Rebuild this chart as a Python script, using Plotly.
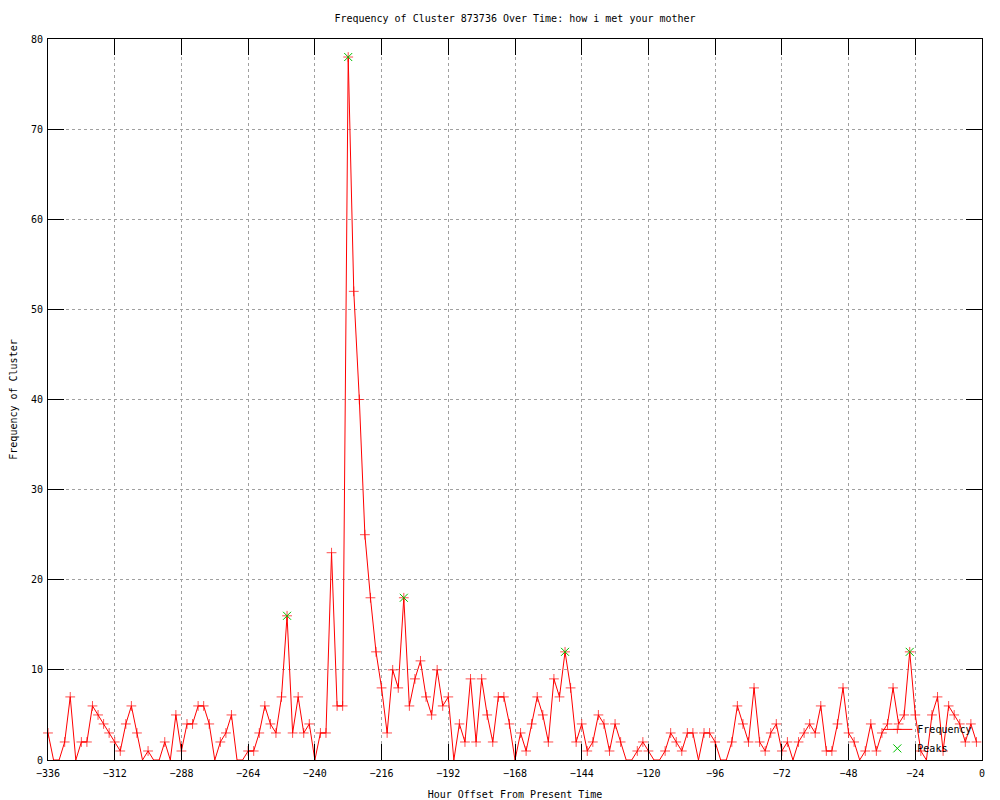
import plotly.graph_objects as go

# ---- data ----
hours = list(range(-336, 0, 2))
frequency = [
    3, 0, 0, 2, 7, 0, 2, 2, 6, 5, 4, 3, 2, 1, 4, 6, 3, 0, 1, 0,
    0, 2, 0, 5, 1, 4, 4, 6, 6, 4, 0, 2, 3, 5, 0, 0, 1, 1, 3, 6,
    4, 3, 7, 16, 3, 7, 3, 4, 0, 3, 3, 23, 6, 6, 78, 52, 40, 25, 18, 12,
    8, 3, 10, 8, 18, 6, 9, 11, 7, 5, 10, 6, 7, 0, 4, 2, 9, 2, 9, 5,
    2, 7, 7, 4, 0, 3, 1, 4, 7, 5, 2, 9, 7, 12, 8, 2, 4, 1, 2, 5,
    4, 1, 4, 2, 0, 0, 1, 2, 1, 0, 0, 1, 3, 2, 1, 3, 3, 0, 3, 3,
    2, 0, 0, 2, 6, 4, 2, 8, 2, 1, 3, 4, 1, 2, 0, 2, 3, 4, 3, 6,
    1, 1, 4, 8, 3, 2, 0, 1, 4, 1, 3, 4, 8, 4, 5, 12, 5, 1, 0, 5,
    7, 1, 6, 5, 4, 2, 4, 2,
]
peak_hours = [-250, -228, -208, -150, -26]
peak_values = [16, 78, 18, 12, 12]

x_ticks = list(range(-336, 1, 24))
y_ticks = list(range(0, 81, 10))

title = "Frequency of Cluster 873736 Over Time: how i met your mother"
x_title = "Hour Offset From Present Time"
y_title = "Frequency of Cluster"

FONT = "DejaVu Sans Mono"
RED = "#ff0000"
GREEN = "#00c000"

# points lying on the bottom border are not drawn by the original
marker_sizes = [0 if v == 0 else 7 for v in frequency]

fig = go.Figure()
fig.add_trace(go.Scatter(
    x=hours, y=frequency, name="Frequency", mode="lines+markers",
    line=dict(color=RED, width=1),
    marker=dict(symbol="cross-thin-open", size=marker_sizes, color=RED,
                line=dict(color=RED, width=1)),
    cliponaxis=False,
))
fig.add_trace(go.Scatter(
    x=peak_hours, y=peak_values, name="Peaks", mode="markers",
    marker=dict(symbol="x-thin-open", size=8, color=GREEN,
                line=dict(color=GREEN, width=1)),
    cliponaxis=False,
))

axis_common = dict(
    showline=True, linecolor="black", linewidth=1, mirror="ticks",
    ticks="inside", ticklen=16, tickwidth=1, tickcolor="black",
    showgrid=True, gridcolor="#a0a0a0", griddash="dot", gridwidth=1,
    zeroline=False, automargin=False,
    tickfont=dict(family=FONT, size=10, color="black"),
)

# the page body has an 8px margin; the figure is sized to fill the rest
W, H = 992, 792
fig.update_layout(
    width=W, height=H,
    paper_bgcolor="white", plot_bgcolor="white",
    margin=dict(l=40, r=18, t=31, b=40, pad=0),
    font=dict(family=FONT, size=10, color="black"),
    title=dict(text=title, x=0.5, xref="paper", y=1 - 10 / H,
               yanchor="middle", font=dict(family=FONT, size=10, color="black")),
    xaxis=dict(range=[-336, 0], tickvals=x_ticks, ticklabelstandoff=4,
               title=dict(text=x_title, standoff=14,
                          font=dict(family=FONT, size=10)),
               **axis_common),
    yaxis=dict(range=[0, 80], tickvals=y_ticks, ticklabelstandoff=2,
               title=dict(text=y_title, standoff=14,
                          font=dict(family=FONT, size=10)),
               **axis_common),
    showlegend=True,
    legend=dict(x=0.995, y=-0.004, xanchor="right", yanchor="bottom",
                bgcolor="rgba(0,0,0,0)", borderwidth=0,
                font=dict(family=FONT, size=10, color="black"),
                itemwidth=30, tracegroupgap=0),
)

fig.write_html("out.html")
